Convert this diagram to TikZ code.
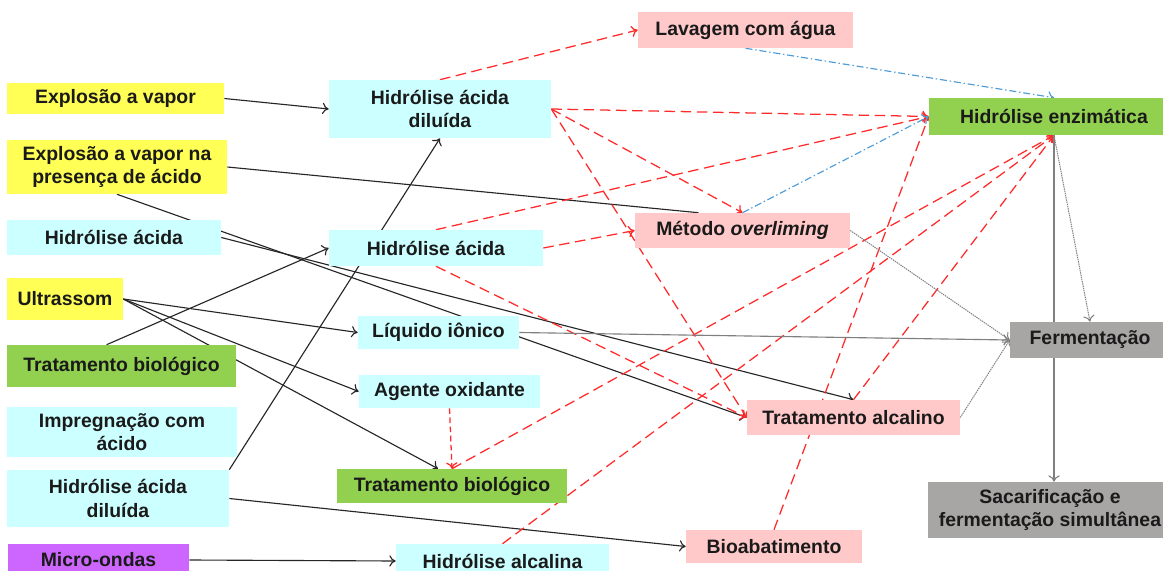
\documentclass[tikz,border=0pt]{standalone}
\usepackage{fontspec}
\setmainfont{Liberation Sans}
\usetikzlibrary{backgrounds,arrows.meta}

\definecolor{amarelo}{HTML}{FFFF55}
\definecolor{ciano}{HTML}{CCFFFF}
\definecolor{verde}{HTML}{92D050}
\definecolor{rosa}{HTML}{FFC9C9}
\definecolor{cinza}{HTML}{A8A5A5}
\definecolor{roxo}{HTML}{CC66FF}
\definecolor{texto}{HTML}{1A1A1A}
\definecolor{linhavermelha}{HTML}{FF2B2B}
\definecolor{linhaazul}{HTML}{4A9BD8}
\definecolor{linhacinza}{HTML}{7F7F7F}

\tikzset{
  >={To[length=4.5pt,width=8pt]},
  box/.style={inner sep=0pt, align=center, text=texto,
    font=\bfseries\fontsize{13.8}{16.5}\selectfont},
  yellowbox/.style={box, fill=amarelo},
  cyanbox/.style={box, fill=ciano},
  greenbox/.style={box, fill=verde},
  pinkbox/.style={box, fill=rosa},
  graybox/.style={box, fill=cinza},
  purplebox/.style={box, fill=roxo},
  blackarrow/.style={->, line width=0.8pt, draw=black!85},
  redarrow/.style={->, line width=0.9pt, draw=linhavermelha, dash pattern=on 7.5pt off 4pt},
  bluearrow/.style={->, line width=0.8pt, draw=linhaazul, dash pattern=on 5pt off 2pt on 1pt off 2pt},
  grayarrow/.style={->, line width=0.8pt, draw=linhacinza},
  grayfine/.style={->, line width=0.7pt, draw=linhacinza, dash pattern=on 1pt off 0.6pt}
}

\begin{document}
\begin{tikzpicture}[x=0.025cm, y=-0.025cm]
  \useasboundingbox (0,0) rectangle (1163,571);

  \node[yellowbox, minimum width=5.425cm, minimum height=0.775cm] (ev) at (115.5,98.5) {Explosão a vapor};
  \node[yellowbox, minimum width=5.5cm, minimum height=1.35cm] (evpa) at (117,167) {Explosão a vapor na\\presença de ácido};
  \node[cyanbox, minimum width=5.35cm, minimum height=0.875cm] (ha1) at (114,237.5) {Hidrólise ácida};
  \node[yellowbox, minimum width=2.9cm, minimum height=1.05cm] (us) at (65,299) {Ultrassom};
  \node[greenbox, minimum width=5.725cm, minimum height=1.05cm] (tb1) at (121.5,366) {Tratamento biológico};
  \node[cyanbox, minimum width=5.75cm, minimum height=1.25cm] (ipa) at (122,432) {Impregnação com\\ácido};
  \node[cyanbox, minimum width=5.55cm, minimum height=1.425cm] (had2) at (118,498.5) {Hidrólise ácida\\diluída};
  \node[purplebox, minimum width=4.525cm, minimum height=0.8cm] (mo) at (98.5,560) {Micro-ondas};

  \node[cyanbox, minimum width=5.55cm, minimum height=1.45cm] (had) at (440,109) {Hidrólise ácida\\diluída};
  \node[cyanbox, minimum width=5.35cm, minimum height=0.9cm] (ha) at (436,248) {Hidrólise ácida};
  \node[cyanbox, minimum width=4.025cm, minimum height=0.825cm] (li) at (438.5,332.5) {Líquido iônico};
  \node[cyanbox, minimum width=4.525cm, minimum height=0.825cm] (ao) at (449.5,391.5) {Agente oxidante};
  \node[greenbox, minimum width=5.75cm, minimum height=0.85cm] (tb2) at (452,486) {Tratamento biológico};
  \node[cyanbox, minimum width=5.325cm, minimum height=0.85cm] (hal) at (502.5,561) {Hidrólise alcalina};

  \node[pinkbox, minimum width=5.375cm, minimum height=0.9cm] (lav) at (745.5,30) {Lavagem com água};
  \node[pinkbox, minimum width=5.375cm, minimum height=0.875cm] (met) at (742.5,230.5) {Método \textit{overliming}};
  \node[pinkbox, minimum width=5.325cm, minimum height=0.875cm] (ta) at (853.5,417.5) {Tratamento alcalino};
  \node[pinkbox, minimum width=4.4cm, minimum height=0.825cm] (bio) at (774,546.5) {Bioabatimento};

  \node[greenbox, minimum width=6.25cm, minimum height=0.925cm] (he) at (1054,116.5) {Hidrólise enzimática};
  \node[graybox, minimum width=4cm, minimum height=0.9cm] (fe) at (1090,340) {Fermentação};
  \node[graybox, minimum width=6.1cm, minimum height=1.4cm] (sfs) at (1050,510) {Sacarificação e\\fermentação simultânea};

  \begin{pgfonlayer}{background}
    \fill[white] (0,0) rectangle (1163,571);
    \draw[blackarrow] (ev.east) -- (had.west);
    \draw[blackarrow, -] (evpa.east) -- (met.158);
    \draw[blackarrow] (evpa.south) -- (ta.west);
    \draw[blackarrow] (ha1.east) -- (ta.north);
    \draw[blackarrow] (us.east) -- (li.west);
    \draw[blackarrow] (us.east) -- (ao.west);
    \draw[blackarrow] (us.east) -- (tb2.129);
    \draw[blackarrow] (tb1.125) -- (ha.west);
    \draw[blackarrow] (had2.north east) -- (had.south);
    \draw[blackarrow] (had2.east) -- (bio.west);
    \draw[blackarrow] (mo.east) -- (hal.west);

    \draw[redarrow] (had.north) -- (lav.west);
    \draw[redarrow] (had.east) -- (he.west);
    \draw[redarrow] (had.east) -- (met.north);
    \draw[redarrow] (had.east) -- (ta.west);
    \draw[redarrow] (ha.north) -- (he.west);
    \draw[redarrow] (ha.east) -- (met.west);
    \draw[redarrow] (ha.south) -- (ta.west);
    \draw[redarrow, dash pattern=on 4pt off 2.5pt] (ao.south) -- (tb2.north);
    \draw[redarrow] (tb2.north) -- (he.south);
    \draw[redarrow] (hal.north) -- (he.south);
    \draw[redarrow] (ta.north) -- (he.south);
    \draw[redarrow] (bio.north) -- (he.west);

    \draw[bluearrow] (lav.south) -- (he.north);
    \draw[bluearrow] (met.north) -- (he.west);

    \draw[grayarrow] (li.east) -- (fe.west);
    \draw[grayarrow] (he.south) -- (he.south |- sfs.north);
    \draw[grayfine] (met.east) -- (fe.west);
    \draw[grayfine] (ta.east) -- (fe.west);
    \draw[grayfine] (he.south) -- (fe.north);
  \end{pgfonlayer}
\end{tikzpicture}
\end{document}
